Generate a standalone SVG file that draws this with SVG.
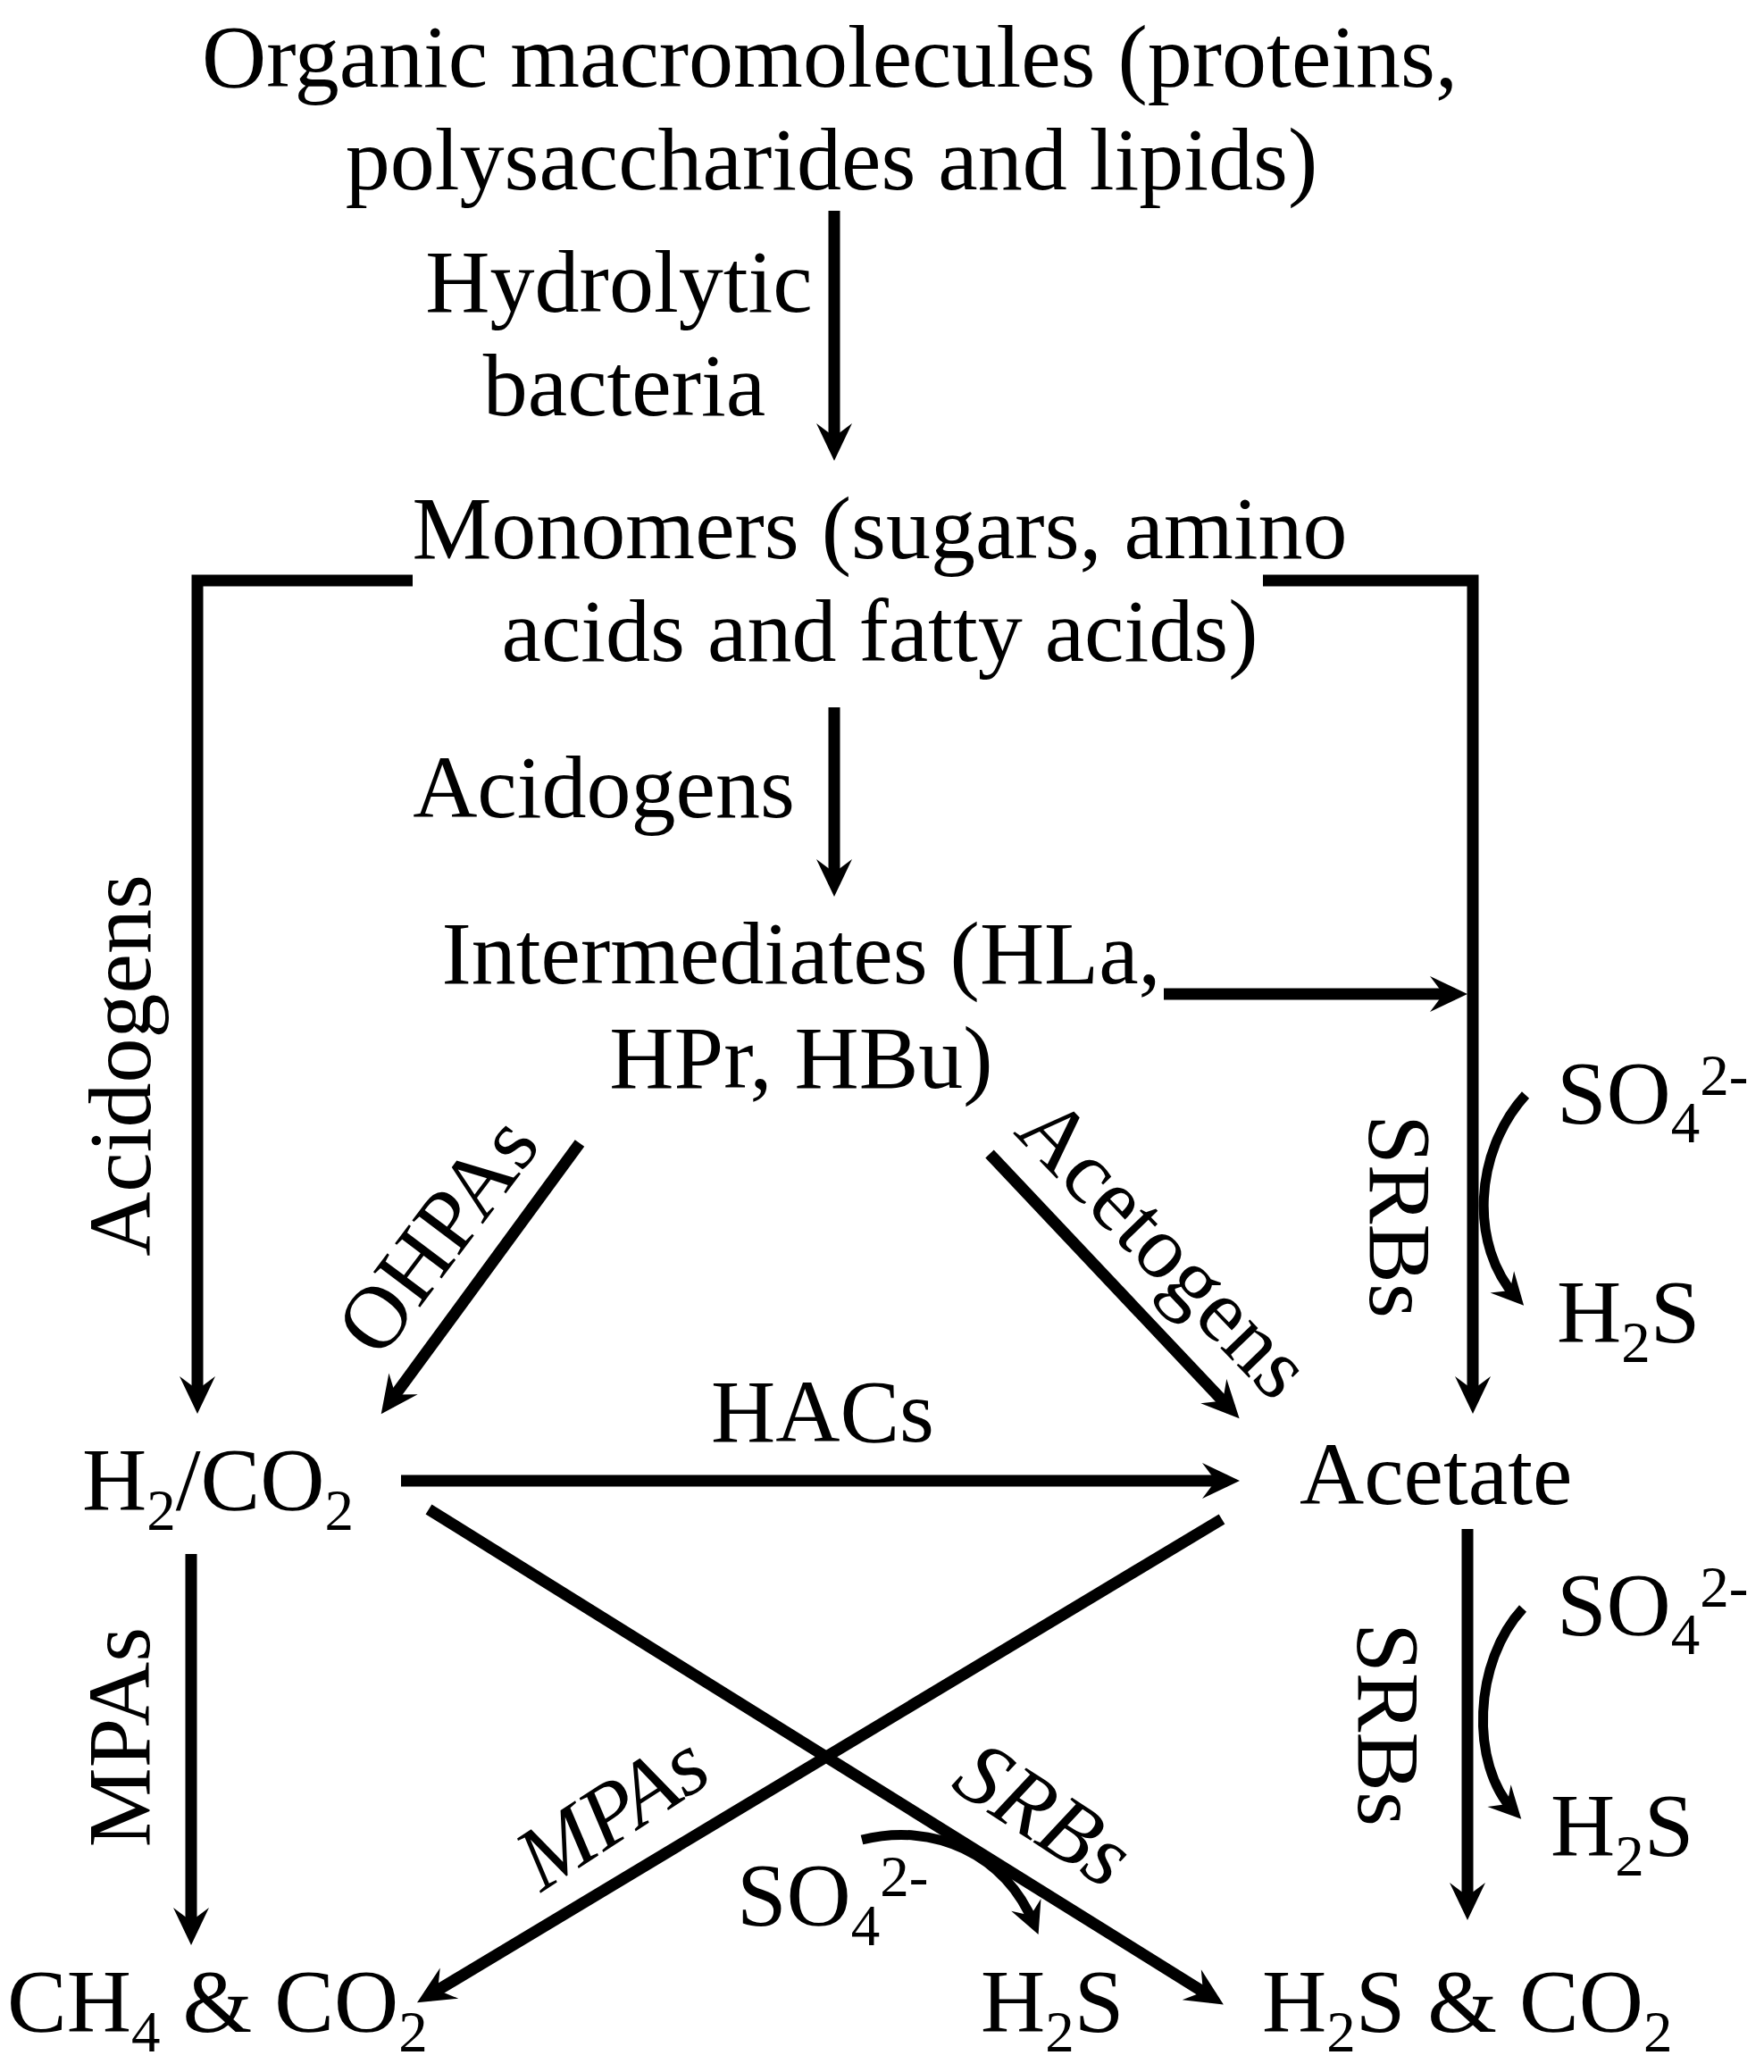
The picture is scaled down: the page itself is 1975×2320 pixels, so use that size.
<svg xmlns="http://www.w3.org/2000/svg" width="1975" height="2320" viewBox="0 0 1975 2320">
<style>
text{font-family:"Liberation Serif","Times New Roman",serif;font-size:100px;fill:#000}
.m{text-anchor:middle}
.it{font-style:italic}
.s{font-size:65px}
.ln{fill:none;stroke:#000;stroke-width:13;stroke-linecap:butt;stroke-linejoin:miter}
.big{marker-end:url(#ah)}
.cv{fill:none;stroke:#000;stroke-width:11;marker-end:url(#ahs)}
</style>
<defs>
<marker id="ah" markerUnits="userSpaceOnUse" viewBox="-50 -30 60 60" markerWidth="60" markerHeight="60" refX="-14" refY="0" orient="auto">
<path d="M0,0 L-42,-20 L-27,0 L-42,20 Z" fill="#000"/>
</marker>
<marker id="ahs" markerUnits="userSpaceOnUse" viewBox="-45 -25 55 50" markerWidth="55" markerHeight="50" refX="-12" refY="0" orient="auto">
<path d="M0,0 L-36,-18 L-23,0 L-36,18 Z" fill="#000"/>
</marker>
</defs>
<rect width="1975" height="2320" fill="#fff"/>
<g id="connectors">
<line class="ln big" x1="934" y1="236" x2="934" y2="502"/>
<line class="ln big" x1="934" y1="792" x2="934" y2="990"/>
<path class="ln big" d="M462,650 H221 V1569"/>
<path class="ln big" d="M1414,650 H1649 V1569"/>
<line class="ln big" x1="1303" y1="1113" x2="1629" y2="1113"/>
<line class="ln big" x1="649" y1="1280" x2="435" y2="1572"/>
<line class="ln big" x1="1108" y1="1292" x2="1378" y2="1578"/>
<line class="ln big" x1="449" y1="1658" x2="1374" y2="1658"/>
<line class="ln big" x1="214" y1="1740" x2="214" y2="2164"/>
<line class="ln big" x1="1643" y1="1712" x2="1643" y2="2136"/>
<line class="ln big" x1="480" y1="1690" x2="1358" y2="2237"/>
<line class="ln big" x1="1368" y1="1701" x2="479" y2="2235"/>
<path class="cv" d="M1708,1226 C1650,1290 1645,1395 1698,1453"/>
<path class="cv" d="M1705,1801 C1650,1860 1645,1975 1695,2028"/>
<path class="cv" d="M965,2060 C1045,2040 1125,2075 1158,2155"/>
</g>
<g id="organic">
<text class="m" x="929" y="97">Organic macromolecules (proteins,</text>
<text class="m" x="931" y="212">polysaccharides and lipids)</text>
</g>
<g id="label-hydrolytic">
<text class="m" x="693" y="349">Hydrolytic</text>
<text class="m" x="699" y="465">bacteria</text>
</g>
<g id="monomers">
<text class="m" x="985" y="625">Monomers (sugars, amino</text>
<text class="m" x="985" y="740">acids and fatty acids)</text>
</g>
<g id="label-acidogens">
<text class="m" x="676" y="915">Acidogens</text>
</g>
<g id="label-acidogens-left">
<text class="m" transform="translate(168,1193) rotate(-90)">Acidogens</text>
</g>
<g id="intermediates">
<text class="m" x="897" y="1101">Intermediates (HLa,</text>
<text class="m" x="897" y="1218">HPr, HBu)</text>
</g>
<g id="label-srbs-top">
<text class="m" transform="translate(1534,1362) rotate(90)">SRBs</text>
</g>
<g id="so4-top">
<text x="1743" y="1257">SO<tspan class="s" dy="22">4</tspan><tspan class="s" dy="-53">2-</tspan></text>
</g>
<g id="h2s-top">
<text x="1743" y="1502">H<tspan class="s" dy="23">2</tspan><tspan dy="-23">S</tspan></text>
</g>
<g id="label-ohpas">
<text class="m" transform="translate(516,1403) rotate(-53)">OHPAs</text>
</g>
<g id="label-acetogens">
<text class="m" transform="translate(1280,1420) rotate(46)">Acetogens</text>
</g>
<g id="label-hacs">
<text class="m" x="921" y="1614">HACs</text>
</g>
<g id="h2co2">
<text x="92" y="1690">H<tspan class="s" dy="23">2</tspan><tspan dy="-23">/CO</tspan><tspan class="s" dy="23">2</tspan></text>
</g>
<g id="acetate">
<text x="1455" y="1684">Acetate</text>
</g>
<g id="label-mpas-left">
<text class="m" transform="translate(167,1945) rotate(-90)">MPAs</text>
</g>
<g id="label-srbs-right">
<text class="m" transform="translate(1521,1931) rotate(90)">SRBs</text>
</g>
<g id="so4-right">
<text x="1743" y="1830">SO<tspan class="s" dy="22">4</tspan><tspan class="s" dy="-53">2-</tspan></text>
</g>
<g id="h2s-right">
<text x="1736" y="2077">H<tspan class="s" dy="23">2</tspan><tspan dy="-23">S</tspan></text>
</g>
<g id="label-mpas-diag">
<text class="m it" transform="translate(703,2056) rotate(-33)" font-size="104">MPAs</text>
</g>
<g id="label-srbs-diag">
<text class="m it" transform="translate(1151,2059) rotate(33)" font-size="104">SRBs</text>
</g>
<g id="so4-bottom">
<text x="825" y="2155">SO<tspan class="s" dy="23">4</tspan><tspan class="s" dy="-55">2-</tspan></text>
</g>
<g id="h2s-bottom">
<text x="1098" y="2274">H<tspan class="s" dy="23">2</tspan><tspan dy="-23">S</tspan></text>
</g>
<g id="ch4co2">
<text x="8" y="2274">CH<tspan class="s" dy="23">4</tspan><tspan dy="-23"> &amp; CO</tspan><tspan class="s" dy="23">2</tspan></text>
</g>
<g id="h2sco2">
<text x="1413" y="2274">H<tspan class="s" dy="23">2</tspan><tspan dy="-23">S &amp; CO</tspan><tspan class="s" dy="23">2</tspan></text>
</g>
</svg>
